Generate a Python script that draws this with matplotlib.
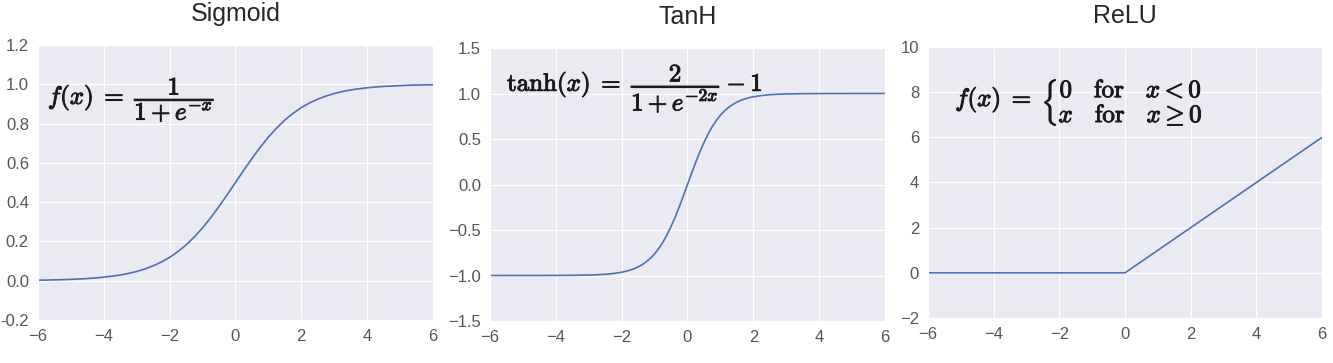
import matplotlib
matplotlib.use('Agg')
import matplotlib.pyplot as plt
import matplotlib.patheffects as pe
import seaborn as sns

sns.set_style('darkgrid')
plt.rcParams['font.family'] = ['Liberation Sans', 'DejaVu Sans']
plt.rcParams['mathtext.fontset'] = 'cm'

# x positions (step 0.25)
x_vals = [-6.0, -5.75, -5.5, -5.25, -5.0, -4.75, -4.5, -4.25, -4.0, -3.75, -3.5, -3.25,
          -3.0, -2.75, -2.5, -2.25, -2.0, -1.75, -1.5, -1.25, -1.0, -0.75, -0.5, -0.25,
          0.0, 0.25, 0.5, 0.75, 1.0, 1.25, 1.5, 1.75, 2.0, 2.25, 2.5, 2.75,
          3.0, 3.25, 3.5, 3.75, 4.0, 4.25, 4.5, 4.75, 5.0, 5.25, 5.5, 5.75, 6.0]

sigmoid_vals = [0.0025, 0.0032, 0.0041, 0.0052, 0.0067, 0.0086, 0.011, 0.014, 0.018, 0.023, 0.029, 0.037,
                0.047, 0.060, 0.076, 0.095, 0.119, 0.148, 0.182, 0.223, 0.269, 0.321, 0.378, 0.438,
                0.5, 0.562, 0.622, 0.679, 0.731, 0.777, 0.818, 0.852, 0.881, 0.905, 0.924, 0.940,
                0.953, 0.963, 0.971, 0.977, 0.982, 0.986, 0.989, 0.991, 0.993, 0.995, 0.996, 0.997, 0.9975]

# tanh is read more densely around the steep part
tanh_x = [-6.0, -5.0, -4.5, -4.0, -3.5, -3.0, -2.75, -2.5, -2.25,
          -2.0, -1.875, -1.75, -1.625, -1.5, -1.375, -1.25, -1.125, -1.0, -0.875, -0.75, -0.625,
          -0.5, -0.375, -0.25, -0.125, 0.0, 0.125, 0.25, 0.375, 0.5, 0.625, 0.75, 0.875,
          1.0, 1.125, 1.25, 1.375, 1.5, 1.625, 1.75, 1.875, 2.0,
          2.25, 2.5, 2.75, 3.0, 3.5, 4.0, 4.5, 5.0, 6.0]
tanh_vals = [-1.0, -0.9999, -0.9998, -0.9993, -0.9982, -0.995, -0.992, -0.987, -0.978,
             -0.964, -0.954, -0.941, -0.926, -0.905, -0.880, -0.848, -0.810, -0.762, -0.704, -0.635, -0.555,
             -0.462, -0.358, -0.245, -0.124, 0.0, 0.124, 0.245, 0.358, 0.462, 0.555, 0.635, 0.704,
             0.762, 0.810, 0.848, 0.880, 0.905, 0.926, 0.941, 0.954, 0.964,
             0.978, 0.987, 0.992, 0.995, 0.9982, 0.9993, 0.9998, 0.9999, 1.0]

relu_x = [-6, 0, 6]
relu_y = [0, 0, 6]

titles = ['Sigmoid', 'TanH', 'ReLU']
sig_yticks = [-0.2, 0.0, 0.2, 0.4, 0.6, 0.8, 1.0, 1.2]
tanh_yticks = [-1.5, -1.0, -0.5, 0.0, 0.5, 1.0, 1.5]
relu_yticks = [-2, 0, 2, 4, 6, 8, 10]
x_ticks = [-6, -4, -2, 0, 2, 4, 6]

line_color = '#4c72b0'
text_color = '#1a1a1a'
bold = [pe.withStroke(linewidth=0.7, foreground=text_color)]

fig = plt.figure(figsize=(13.33, 3.63), dpi=100)
ax1 = fig.add_axes([0.0285, 0.1185, 0.2963, 0.7576])
ax2 = fig.add_axes([0.3676, 0.1157, 0.2963, 0.752])
ax3 = fig.add_axes([0.6962, 0.124, 0.2956, 0.7466])

ax1.plot(x_vals, sigmoid_vals, color=line_color, lw=1.2)
ax2.plot(tanh_x, tanh_vals, color=line_color, lw=1.2)
ax3.plot(relu_x, relu_y, color=line_color, lw=1.2)

for ax, title, yt in zip([ax1, ax2, ax3], titles, [sig_yticks, tanh_yticks, relu_yticks]):
    ax.set_xlim(-6, 6)
    ax.set_ylim(yt[0], yt[-1])
    ax.set_xticks(x_ticks)
    ax.set_yticks(yt)
    ax.set_title(title, fontsize=18, pad=17)
    ax.tick_params(labelsize=12, colors='#555555', pad=3)

ax1.set_yticklabels(['-0.2', '0.0', '0.2', '0.4', '0.6', '0.8', '1.0', '1.2'])

ax1.text(0.025, 0.80, r'$f(x) \;=\; \dfrac{1}{1 + e^{-x}}$', transform=ax1.transAxes,
         fontsize=18, va='center', color=text_color, path_effects=bold)
ax2.text(0.043, 0.85, r'$\mathrm{tanh}(x) \;=\; \dfrac{2}{1 + e^{-2x}} - 1$', transform=ax2.transAxes,
         fontsize=18, va='center', color=text_color, path_effects=bold)
ax3.text(0.069, 0.80,
         r'$f(x) \;=\; \left\{\genfrac{}{}{0}{0}{0\quad\mathrm{for}\quad x<0}{x\quad\mathrm{for}\quad x\geq 0}\right.$',
         transform=ax3.transAxes, fontsize=18, va='center', color=text_color, path_effects=bold)

fig.savefig('out.png', dpi=100)
